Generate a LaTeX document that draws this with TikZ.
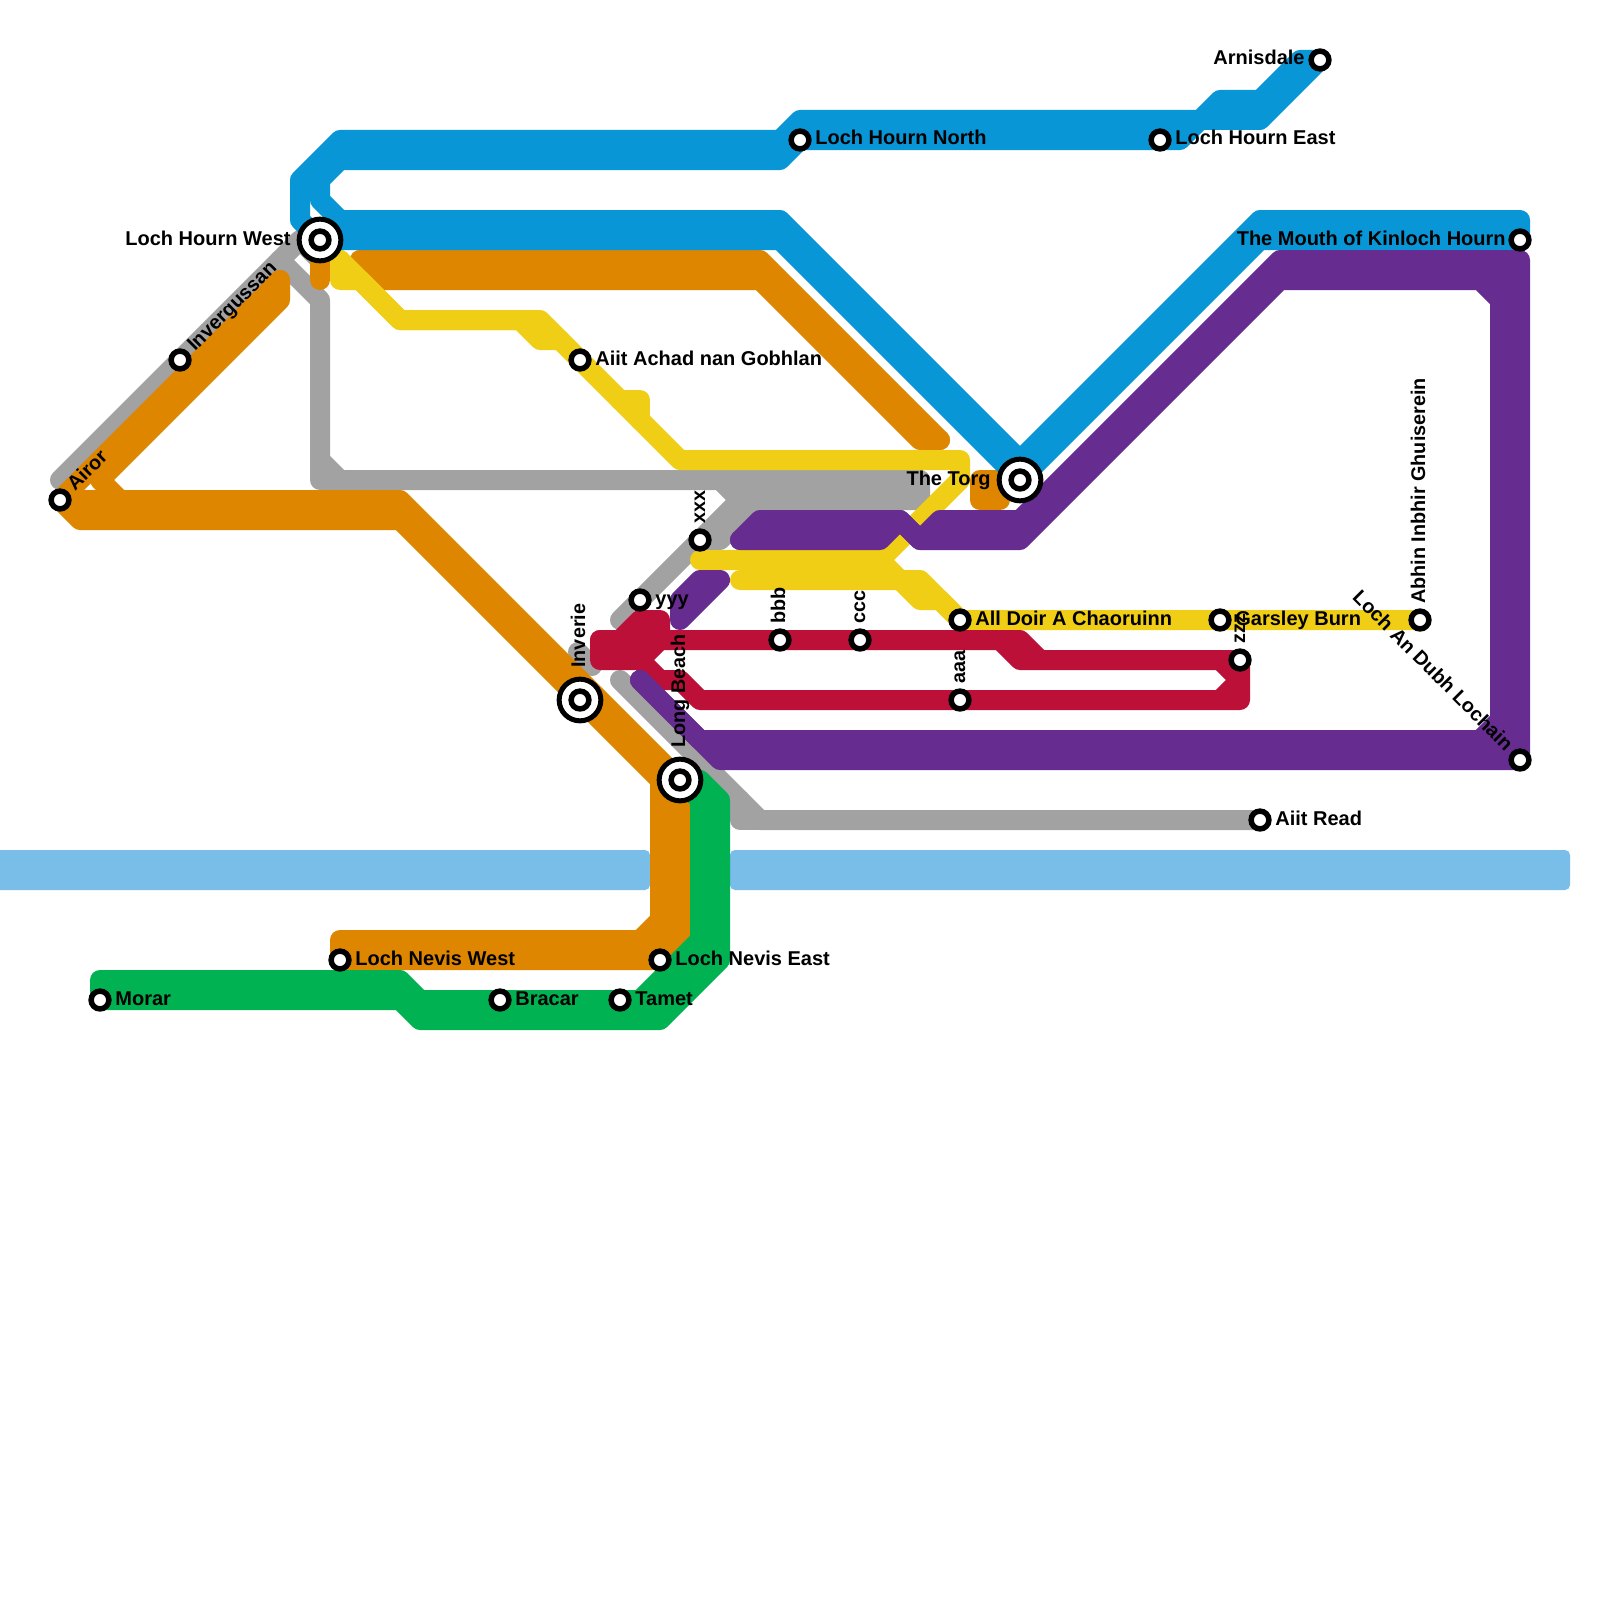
\documentclass[tikz,border=0pt]{standalone}
\usepackage{fontspec}
\setmainfont{Liberation Sans}
\definecolor{cblue}{HTML}{0896D7}
\definecolor{corange}{HTML}{DF8600}
\definecolor{cyellow}{HTML}{F0CE15}
\definecolor{cgreen}{HTML}{00B251}
\definecolor{cpurple}{HTML}{662C90}
\definecolor{cred}{HTML}{BD1038}
\definecolor{cgray}{HTML}{A2A2A2}
\definecolor{cwater}{HTML}{79BDE9}
\tikzset{
  metro/.style={line width=10pt,line join=round,line cap=round,
    preaction={draw,line cap=butt,shorten <=-2.5pt,shorten >=-2.5pt}},
  blueline/.style={metro,draw=cblue},
  orangeline/.style={metro,draw=corange},
  yellowline/.style={metro,draw=cyellow},
  greenline/.style={metro,draw=cgreen},
  purpleline/.style={metro,draw=cpurple},
  redline/.style={metro,draw=cred},
  grayline/.style={metro,draw=cgray},
  waterband/.style={fill=cwater,rounded corners=2.5pt},
  stn/.style={circle,draw=black,fill=white,line width=2.75pt,minimum size=8.9pt,inner sep=0pt},
  bigouter/.style={circle,draw=black,fill=white,line width=2.5pt,minimum size=20.85pt,inner sep=0pt},
  lab/.style={inner sep=0pt,text=black,font=\bfseries\fontsize{10pt}{12pt}\selectfont},
  labr/.style={lab,anchor=base west},
  labl/.style={lab,anchor=base east},
  rotlab/.style={font=\bfseries\fontsize{9.9pt}{12pt}\selectfont},
}
\begin{document}
\begin{tikzpicture}[x=0.5pt,y=-0.5pt]
\useasboundingbox (0,0) rectangle (1600,1600);
\fill[white] (0,0) rectangle (1600,1600);
% station positions
\coordinate (airor) at (60,500);
\coordinate (invergussan) at (180,360);
\coordinate (lhwest) at (320,240);
\coordinate (aiit) at (580,360);
\coordinate (lhnorth) at (800,140);
\coordinate (lheast) at (1160,140);
\coordinate (arnisdale) at (1320,60);
\coordinate (mouth) at (1520,240);
\coordinate (torg) at (1020,480);
\coordinate (alldoir) at (960,620);
\coordinate (garsley) at (1220,620);
\coordinate (abhin) at (1420,620);
\coordinate (zzz) at (1240,660);
\coordinate (aiitread) at (1260,820);
\coordinate (lochan) at (1520,760);
\coordinate (aaa) at (960,700);
\coordinate (bbb) at (780,640);
\coordinate (ccc) at (860,640);
\coordinate (xxx) at (700,540);
\coordinate (yyy) at (640,600);
\coordinate (inverie) at (580,700);
\coordinate (longbeach) at (680,780);
\coordinate (lnwest) at (340,960);
\coordinate (lneast) at (660,960);
\coordinate (morar) at (100,1000);
\coordinate (bracar) at (500,1000);
\coordinate (tamet) at (620,1000);
% water
\path[waterband] (-20,850) rectangle (650,890);
\path[waterband] (730,850) rectangle (1570,890);
% gray
\draw[grayline] (60,480) -- (invergussan) -- (300,240) -- (320,260);
\draw[grayline] (280,260) -- (320,300) -- (320,460) -- (340,480) -- (720,480) -- (740,500) -- (920,500) -- (920,480);
\draw[grayline] (320,460) -- (320,480) -- (920,480);
\draw[grayline] (740,500) -- (xxx) -- (yyy) -- (620,620);
\draw[grayline] (xxx) -- (720,540) -- (760,500);
\draw[grayline] (578,652) -- (592,666);
\draw[grayline] (620,680) -- (740,800) -- (760,820) -- (aiitread);
\draw[grayline] (740,800) -- (740,820) -- (760,820);
% orange
\draw[orangeline] (280,280) -- (180,380) -- (airor) -- (80,520) -- (400,520) -- (inverie) -- (660,780) -- (660,920) -- (640,940) -- (340,940) -- (lnwest);
\draw[orangeline] (280,280) -- (280,300) -- (100,480) -- (120,500) -- (400,500) -- (longbeach) -- (680,940) -- (lneast) -- (lnwest);
\draw[orangeline] (airor) -- (120,500);
\draw[orangeline] (680,920) -- (640,960);
\draw[orangeline] (360,260) -- (760,260) -- (940,440);
\draw[orangeline] (360,260) -- (380,280) -- (760,280) -- (920,440) -- (940,440);
\draw[orangeline] (lhwest) -- (320,280);
\draw[orangeline] (980,480) -- (980,500) -- (1000,500) -- (1000,480) -- cycle;
% yellow
\draw[yellowline] (340,260) -- (340,280) -- (360,280) -- (400,320) -- (520,320) -- (540,340) -- (560,340);
\draw[yellowline] (340,260) -- (400,320) -- (540,320) -- (aiit) -- (680,460) -- (960,460) -- (960,480) -- (880,560);
\draw[yellowline] (620,400) -- (640,400) -- (640,420);
\draw[yellowline] (700,560) -- (880,560) -- (900,580) -- (920,580) -- (alldoir) -- (garsley) -- (abhin);
\draw[yellowline] (740,580) -- (900,580) -- (920,600) -- (940,600) -- (alldoir);
% blue
\draw[blueline] (arnisdale) -- (1300,60) -- (1260,100) -- (1220,100) -- (1200,120) -- (800,120) -- (780,140) -- (340,140) -- (300,180) -- (300,220) -- (lhwest) -- (780,240) -- (torg) -- (1260,240) -- (mouth);
\draw[blueline] (arnisdale) -- (1260,120) -- (1200,120) -- (1180,140) -- (lheast) -- (lhnorth) -- (780,160) -- (340,160) -- (320,180) -- (320,200) -- (340,220) -- (780,220) -- (1020,460) -- (1260,220) -- (1520,220) -- (mouth);
% red
\draw[redline] (600,660) -- (600,640) -- (620,640) -- (640,620) -- (660,620) -- (660,640) -- (640,660) -- (600,660);
\draw[redline] (600,640) -- (bbb) -- (ccc) -- (1020,640) -- (1040,660) -- (zzz) -- (1240,700) -- (aaa) -- (700,700) -- (680,680) -- (660,680) -- (640,660);
\draw[redline] (1000,640) -- (1020,660) -- (1040,660);
\draw[redline] (1220,660) -- (1240,680) -- (1220,700);
% purple
\draw[purpleline] (640,680) -- (700,740) -- (1480,740) -- (1500,720) -- (1500,300) -- (1480,280) -- (1280,280) -- (1020,540) -- (920,540) -- (900,520) -- (880,540) -- (740,540);
\draw[purpleline] (640,680) -- (720,760) -- (lochan) -- (1520,260) -- (1280,260) -- (1020,520) -- (940,520) -- (920,540) -- (900,520) -- (760,520) -- (740,540);
\draw[purpleline] (1480,280) -- (1520,280) -- (1520,300) -- (1500,300) -- (1500,280);
\draw[purpleline] (1480,740) -- (1520,740) -- (1520,720) -- (1500,720) -- (1500,740);
\draw[purpleline] (680,620) -- (680,600) -- (700,580) -- (720,580) -- (680,620);
% green
\draw[greenline] (longbeach) -- (700,800) -- (700,940) -- (640,1000) -- (tamet) -- (bracar) -- (420,1000) -- (400,980) -- (100,980) -- (morar);
\draw[greenline] (700,780) -- (720,800) -- (720,960) -- (660,1020) -- (420,1020) -- (400,1000) -- (morar);
\draw[greenline] (720,940) -- (640,1020);
% stations
\foreach \s in {airor,invergussan,aiit,lhnorth,lheast,arnisdale,mouth,alldoir,garsley,abhin,zzz,aiitread,lochan,aaa,bbb,ccc,xxx,yyy,lnwest,lneast,morar,bracar,tamet}
  \node[stn] (st-\s) at (\s) {};
\foreach \s in {lhwest,torg,inverie,longbeach}{
  \node[bigouter] (st-\s) at (\s) {};
  \node[stn] (stc-\s) at (\s) {};
}
% labels
\node[labr,rotlab,rotate=45] (l-airor) at (74.8,492.2) {Airor};
\node[labr,rotlab,rotate=45] (l-invergussan) at (194.8,352.2) {Invergussan};
\node[labl] (l-lhwest) at (291,245) {Loch Hourn West};
\node[labr] (l-aiit) at (595,365) {Aiit Achad nan Gobhlan};
\node[labr] (l-lhnorth) at (815,145) {Loch Hourn North};
\node[labr] (l-lheast) at (1175,145) {Loch Hourn East};
\node[labl] (l-arnisdale) at (1305,65) {Arnisdale};
\node[labl] (l-mouth) at (1506,245) {The Mouth of Kinloch Hourn};
\node[labl] (l-torg) at (991,485) {The Torg};
\node[labr] (l-alldoir) at (975,625) {All Doir A Chaoruinn};
\node[labr] (l-garsley) at (1235,625) {Garsley Burn};
\node[labr,rotlab,rotate=90] (l-abhin) at (1425,604) {Abhin Inbhir Ghuiserein};
\node[labr,rotlab,rotate=90] (l-zzz) at (1245,644) {zzz};
\node[labr] (l-aiitread) at (1275,825) {Aiit Read};
\node[labl,rotlab,rotate=-45] (l-lochan) at (1505.2,752.2) {Loch An Dubh Lochain};
\node[labr,rotlab,rotate=90] (l-aaa) at (965,684) {aaa};
\node[labr,rotlab,rotate=90] (l-bbb) at (785,624) {bbb};
\node[labr,rotlab,rotate=90] (l-ccc) at (865,624) {ccc};
\node[labr,rotlab,rotate=90] (l-xxx) at (705,524) {xxx};
\node[labr] (l-yyy) at (655,605) {yyy};
\node[labr,rotlab,rotate=90] (l-inverie) at (585,668) {Inverie};
\node[labr,rotlab,rotate=90] (l-longbeach) at (685,748) {Long Beach};
\node[labr] (l-lnwest) at (355,965) {Loch Nevis West};
\node[labr] (l-lneast) at (675,965) {Loch Nevis East};
\node[labr] (l-morar) at (115,1005) {Morar};
\node[labr] (l-bracar) at (515,1005) {Bracar};
\node[labr] (l-tamet) at (635,1005) {Tamet};
\end{tikzpicture}
\end{document}
